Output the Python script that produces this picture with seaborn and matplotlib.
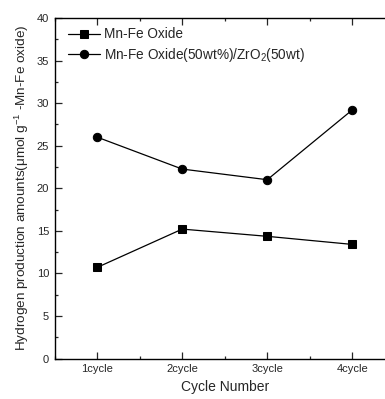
import matplotlib
matplotlib.use("Agg")
import matplotlib.pyplot as plt
import seaborn as sns
import pandas as pd
from matplotlib.ticker import MultipleLocator

sns.set_style("ticks")
plt.rcParams['font.family'] = ['Liberation Sans', 'DejaVu Sans']
plt.rcParams['mathtext.fontset'] = 'custom'
plt.rcParams['mathtext.rm'] = 'Liberation Sans'
plt.rcParams['mathtext.it'] = 'Liberation Sans'

# -----------------------------
# Data
# -----------------------------
cycles = [1, 2, 3, 4]
cycle_labels = ["1cycle", "2cycle", "3cycle", "4cycle"]
mnfe_oxide = [10.7, 15.2, 14.35, 13.4]
mnfe_zro2 = [26.0, 22.25, 21.0, 29.2]

df = pd.DataFrame({
    "cycle": cycles * 2,
    "amount": mnfe_oxide + mnfe_zro2,
    "sample": ["Mn-Fe Oxide"] * 4 + ["Mn-Fe Oxide(50wt%)/ZrO$_2$(50wt)"] * 4,
})

fig = plt.figure(figsize=(3.85, 3.99), dpi=100)
ax = fig.add_axes([0.142, 0.1015, 0.8835, 0.8535])

sns.lineplot(data=df, x="cycle", y="amount", hue="sample", style="sample",
             markers={"Mn-Fe Oxide": "s", "Mn-Fe Oxide(50wt%)/ZrO$_2$(50wt)": "o"},
             dashes=False, palette=["black", "black"], linewidth=0.9,
             markersize=6, markeredgecolor="black", ax=ax)

ax.set_xlim(0.5, 4.5)
ax.set_ylim(0, 40)
ax.set_xticks(cycles)
ax.set_xticklabels(cycle_labels)
ax.xaxis.set_minor_locator(MultipleLocator(0.5))
ax.yaxis.set_major_locator(MultipleLocator(5))
ax.yaxis.set_minor_locator(MultipleLocator(2.5))
ax.tick_params(which="both", direction="in", top=True, right=False, width=0.9,
               labelsize=8, pad=4)
ax.tick_params(which="major", length=5)
ax.tick_params(which="minor", length=2.5)
for s in ax.spines.values():
    s.set_linewidth(1.0)
    s.set_color("black")

ax.set_xlabel("Cycle Number", fontsize=10, labelpad=4)
ax.set_ylabel("Hydrogen production amounts($\\mu$mol g$^{-1}$ -Mn-Fe oxide)",
              fontsize=9.7, labelpad=4)

leg = ax.legend(loc="upper left", frameon=False, fontsize=9.8,
                bbox_to_anchor=(0.01, 1.0), handlelength=2.4,
                handletextpad=0.3, borderaxespad=0.3, labelspacing=0.35)

fig.savefig("out.png", dpi=100)
